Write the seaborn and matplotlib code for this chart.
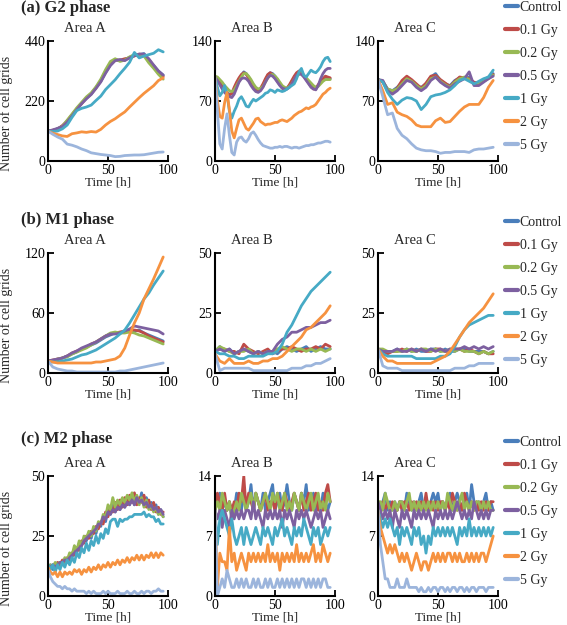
import matplotlib
matplotlib.use("Agg")
import matplotlib.pyplot as plt
from matplotlib.lines import Line2D
import numpy as np
import pandas as pd
import seaborn as sns

doses = ["Control", "0.1 Gy", "0.2 Gy", "0.5 Gy", "1 Gy", "2 Gy", "5 Gy"]
colors = ["#4a7ebb", "#be4b48", "#98b954", "#7d60a0", "#46aac5", "#f69240", "#9cb5dc"]

# G2 phase (values sampled every 4 h or 2 h over 0-96 h)
g2_area_a = [
    [110, 112, 118, 128, 145, 168, 190, 212, 230, 245, 270, 292, 325, 352, 372, 368, 372, 380, 388, 390, 394, 368, 350, 330, 315],
    [110, 113, 117, 130, 147, 170, 192, 210, 232, 247, 268, 295, 328, 355, 370, 370, 375, 378, 385, 392, 390, 372, 348, 328, 310],
    [110, 111, 118, 127, 150, 172, 195, 215, 235, 250, 272, 300, 335, 365, 375, 365, 370, 382, 390, 388, 385, 360, 340, 318, 300],
    [110, 114, 120, 126, 143, 165, 188, 210, 228, 244, 266, 290, 322, 350, 368, 372, 368, 378, 386, 392, 392, 375, 352, 330, 315],
    [110, 108, 110, 118, 132, 160, 185, 193, 198, 205, 222, 238, 262, 280, 298, 320, 340, 362, 398, 378, 385, 390, 395, 408, 400],
    [110, 102, 97, 92, 90, 100, 103, 107, 105, 108, 106, 116, 132, 145, 155, 168, 180, 198, 215, 232, 248, 262, 276, 295, 305],
    [110, 98, 88, 80, 62, 58, 52, 44, 38, 30, 27, 24, 22, 20, 16, 17, 20, 21, 22, 22, 23, 26, 29, 32, 33],
]
g2_area_b = [
    [98, 96, 92, 88, 84, 80, 78, 78, 84, 90, 95, 100, 104, 102, 98, 93, 88, 84, 82, 84, 88, 94, 100, 103, 102, 99, 95, 90, 86, 84, 84, 88, 92, 97, 102, 104, 104, 100, 96, 92, 88, 85, 84, 88, 92, 95, 98, 97, 96],
    [98, 95, 91, 86, 82, 79, 77, 79, 86, 92, 97, 101, 103, 101, 97, 92, 87, 83, 82, 85, 90, 96, 101, 103, 101, 97, 93, 89, 85, 83, 85, 89, 94, 99, 103, 105, 103, 99, 95, 91, 87, 84, 85, 89, 93, 96, 99, 98, 97],
    [99, 98, 95, 92, 88, 85, 82, 81, 83, 88, 93, 98, 102, 102, 99, 95, 90, 86, 84, 85, 87, 92, 97, 100, 101, 99, 96, 92, 88, 86, 85, 87, 90, 95, 99, 101, 102, 100, 97, 94, 91, 88, 86, 87, 90, 93, 95, 95, 95],
    [98, 94, 89, 84, 80, 77, 75, 74, 78, 85, 92, 96, 97, 96, 93, 88, 84, 81, 80, 82, 86, 92, 97, 100, 99, 96, 92, 88, 85, 84, 84, 86, 90, 95, 100, 102, 101, 98, 94, 90, 86, 84, 83, 88, 96, 102, 106, 108, 108],
    [98, 86, 76, 80, 88, 78, 58, 50, 58, 64, 72, 75, 70, 64, 63, 68, 72, 70, 72, 74, 76, 79, 80, 83, 82, 80, 83, 82, 81, 82, 84, 86, 88, 90, 96, 104, 108, 100, 98, 102, 106, 104, 103, 106, 110, 116, 120, 121, 116],
    [98, 70, 52, 50, 68, 80, 60, 35, 27, 38, 48, 50, 44, 38, 36, 40, 44, 49, 50, 46, 44, 42, 43, 43, 44, 45, 45, 47, 48, 47, 46, 48, 50, 53, 55, 57, 58, 60, 62, 61, 63, 64, 66, 70, 74, 78, 80, 83, 85],
    [98, 58, 20, 14, 38, 55, 30, 10, 7, 22, 27, 28, 24, 22, 26, 32, 34, 30, 25, 21, 18, 17, 16, 15, 15, 16, 16, 17, 16, 17, 17, 16, 15, 16, 16, 15, 16, 17, 18, 18, 19, 19, 20, 21, 21, 22, 23, 23, 22],
]
g2_area_c = [
    [95, 93, 84, 82, 86, 92, 98, 94, 88, 86, 90, 98, 102, 94, 90, 88, 94, 97, 96, 98, 90, 92, 94, 98, 102],
    [95, 92, 83, 80, 85, 94, 99, 95, 90, 85, 91, 99, 100, 95, 91, 87, 93, 98, 97, 96, 92, 91, 93, 97, 101],
    [95, 93, 84, 82, 84, 90, 96, 93, 88, 84, 88, 96, 98, 93, 89, 86, 92, 96, 98, 95, 90, 90, 93, 96, 100],
    [95, 94, 82, 78, 82, 88, 94, 92, 86, 82, 86, 94, 98, 92, 88, 85, 90, 93, 96, 104, 88, 88, 92, 96, 99],
    [95, 92, 80, 72, 66, 71, 74, 73, 70, 60, 66, 75, 77, 78, 80, 83, 88, 94, 96, 93, 90, 93, 96, 98, 106],
    [95, 82, 66, 68, 57, 54, 52, 48, 42, 40, 40, 40, 47, 50, 45, 46, 52, 58, 63, 66, 66, 66, 74, 86, 94],
    [95, 75, 54, 56, 38, 30, 26, 20, 15, 13, 12, 12, 11, 9, 10, 10, 11, 11, 11, 10, 13, 14, 14, 15, 16],
]

# M1 phase
m1_area_a = [
    [12, 12, 13, 15, 17, 19, 21, 24, 26, 28, 30, 33, 36, 38, 40, 40, 41, 42, 42, 43, 40, 38, 36, 34, 32],
    [12, 13, 14, 15, 17, 20, 22, 24, 26, 29, 31, 34, 37, 39, 40, 41, 42, 41, 43, 42, 40, 37, 35, 33, 31],
    [12, 12, 14, 15, 16, 19, 21, 23, 25, 28, 31, 34, 37, 40, 41, 40, 40, 41, 40, 38, 37, 35, 33, 31, 29],
    [12, 13, 14, 15, 17, 20, 22, 25, 27, 29, 31, 34, 37, 39, 39, 40, 42, 44, 47, 46, 45, 44, 43, 42, 39],
    [12, 11, 11, 12, 13, 14, 16, 18, 19, 21, 23, 26, 29, 32, 35, 39, 43, 50, 58, 66, 74, 80, 88, 95, 102],
    [12, 11, 10, 10, 10, 10, 10, 10, 10, 10, 11, 11, 12, 13, 14, 17, 25, 38, 50, 60, 74, 84, 94, 105, 116],
    [12, 6, 4, 3, 2, 2, 1, 1, 1, 1, 1, 1, 1, 1, 1, 2, 2, 3, 4, 5, 6, 7, 8, 9, 10],
]
m1_area_b = [
    [9, 11, 9, 10, 8, 9, 10, 9, 8, 9, 8, 9, 9, 8, 10, 11, 10, 9, 10, 11, 9, 10, 11, 10, 10],
    [9, 10, 10, 9, 9, 8, 12, 10, 9, 8, 9, 10, 8, 9, 10, 10, 11, 10, 9, 10, 10, 11, 10, 12, 11],
    [9, 11, 10, 9, 8, 9, 9, 10, 8, 9, 8, 9, 9, 10, 11, 10, 9, 10, 10, 9, 10, 9, 10, 9, 10],
    [9, 10, 9, 10, 8, 9, 10, 9, 8, 9, 8, 9, 9, 12, 14, 15, 17, 17, 18, 19, 19, 20, 21, 21, 22],
    [9, 8, 8, 7, 7, 6, 6, 7, 7, 7, 7, 8, 8, 9, 12, 17, 20, 24, 28, 31, 34, 36, 38, 40, 42],
    [8, 5, 4, 6, 4, 4, 4, 5, 4, 4, 5, 5, 6, 6, 7, 9, 11, 13, 15, 18, 19, 21, 23, 25, 28],
    [8, 1, 2, 2, 2, 2, 2, 2, 1, 1, 1, 1, 1, 1, 1, 1, 2, 2, 2, 3, 3, 4, 4, 5, 6],
]
m1_area_c = [
    [10, 9, 9, 9, 10, 9, 10, 9, 10, 9, 9, 10, 10, 9, 10, 9, 9, 10, 10, 9, 9, 9, 9, 8, 9],
    [10, 9, 8, 9, 9, 10, 9, 10, 9, 10, 9, 9, 10, 10, 9, 9, 10, 10, 9, 10, 9, 8, 9, 8, 8],
    [10, 10, 9, 9, 9, 9, 10, 9, 9, 10, 10, 9, 10, 9, 9, 10, 9, 10, 9, 9, 9, 8, 9, 8, 9],
    [10, 9, 9, 9, 10, 9, 9, 10, 9, 10, 9, 10, 9, 10, 9, 10, 10, 10, 11, 10, 11, 10, 11, 10, 11],
    [10, 8, 7, 7, 7, 7, 7, 7, 6, 6, 6, 6, 6, 7, 7, 8, 11, 15, 18, 20, 21, 22, 23, 24, 24],
    [10, 7, 5, 5, 4, 4, 4, 4, 4, 4, 4, 4, 5, 6, 7, 9, 12, 15, 18, 21, 23, 25, 27, 30, 33],
    [10, 3, 2, 2, 2, 1, 1, 1, 1, 1, 1, 1, 1, 1, 1, 1, 2, 2, 2, 3, 3, 4, 4, 4, 4],
]

# M2 phase
m2_area_a = [
    [12, 13, 11, 13, 12, 14, 13, 15, 14, 17, 16, 19, 18, 22, 21, 24, 23, 26, 24, 28, 26, 30, 29, 33, 31, 36, 34, 38, 35, 39, 36, 40, 37, 41, 38, 42, 38, 41, 39, 43, 38, 41, 37, 39, 36, 38, 34, 36, 33],
    [12, 12, 13, 12, 14, 13, 15, 14, 16, 15, 18, 17, 20, 19, 23, 22, 25, 24, 27, 26, 29, 28, 31, 30, 35, 33, 37, 35, 39, 36, 40, 37, 41, 38, 42, 39, 43, 38, 41, 39, 42, 37, 40, 36, 39, 35, 37, 34, 35],
    [12, 13, 12, 14, 13, 14, 13, 16, 15, 18, 17, 21, 19, 23, 21, 25, 24, 27, 25, 29, 27, 31, 30, 34, 33, 38, 36, 41, 37, 40, 38, 41, 39, 42, 40, 43, 39, 42, 38, 41, 37, 40, 36, 38, 35, 37, 34, 35, 33],
    [12, 12, 13, 12, 13, 14, 14, 15, 15, 16, 17, 18, 19, 20, 21, 23, 24, 25, 26, 27, 28, 30, 30, 33, 32, 35, 34, 36, 35, 37, 36, 38, 37, 39, 38, 40, 38, 41, 39, 40, 38, 39, 37, 38, 36, 37, 35, 36, 34],
    [13, 11, 13, 10, 13, 11, 14, 12, 15, 13, 16, 14, 18, 16, 20, 18, 22, 19, 23, 21, 25, 22, 26, 24, 28, 26, 31, 32, 32, 29, 32, 31, 32, 32, 33, 33, 34, 34, 34, 34, 35, 33, 34, 33, 33, 31, 32, 30, 30],
    [12, 10, 9, 10, 8, 10, 8, 10, 9, 10, 9, 11, 10, 11, 9, 11, 10, 12, 10, 12, 11, 13, 11, 13, 12, 14, 12, 14, 13, 15, 13, 15, 14, 16, 14, 16, 15, 17, 15, 17, 15, 17, 16, 18, 16, 18, 16, 18, 17],
    [11, 8, 6, 5, 4, 4, 3, 4, 3, 3, 2, 3, 2, 2, 2, 2, 1, 2, 1, 2, 1, 1, 1, 2, 1, 2, 1, 1, 1, 2, 1, 1, 1, 2, 1, 1, 2, 1, 1, 2, 1, 2, 2, 1, 2, 2, 3, 2, 2],
]
m2_area_b = [
    [10, 11, 12, 10, 11, 10, 11, 9, 10, 12, 11, 10, 12, 10, 11, 13, 10, 12, 11, 10, 12, 10, 11, 12, 13, 10, 11, 12, 10, 11, 13, 11, 10, 12, 11, 10, 12, 11, 13, 10, 11, 12, 10, 11, 10, 12, 11, 10, 11],
    [10, 12, 11, 10, 12, 10, 11, 10, 11, 10, 12, 11, 14, 10, 12, 11, 10, 12, 11, 10, 11, 12, 10, 11, 11, 10, 12, 11, 10, 12, 11, 10, 11, 12, 11, 10, 12, 10, 11, 12, 10, 11, 12, 10, 11, 10, 12, 13, 11],
    [10, 11, 10, 12, 11, 10, 11, 9, 10, 11, 10, 12, 11, 10, 11, 12, 10, 12, 11, 10, 11, 12, 11, 10, 12, 11, 12, 10, 11, 12, 10, 11, 10, 12, 11, 10, 12, 11, 10, 11, 12, 10, 11, 12, 10, 11, 10, 12, 11],
    [10, 9, 10, 8, 10, 9, 8, 10, 9, 10, 9, 10, 9, 10, 10, 9, 11, 9, 10, 9, 8, 10, 9, 10, 9, 10, 9, 10, 8, 10, 9, 10, 9, 8, 10, 9, 10, 9, 10, 9, 8, 9, 10, 9, 10, 8, 9, 10, 9],
    [10, 6, 9, 10, 9, 8, 7, 9, 7, 6, 7, 8, 6, 8, 7, 6, 7, 8, 7, 6, 8, 7, 8, 7, 6, 8, 7, 8, 9, 7, 8, 7, 6, 8, 7, 8, 7, 9, 8, 7, 6, 8, 7, 8, 6, 7, 8, 7, 8],
    [10, 1, 5, 4, 4, 3, 8, 4, 5, 3, 4, 5, 4, 3, 5, 4, 5, 4, 5, 4, 5, 4, 6, 4, 5, 4, 5, 3, 5, 4, 5, 4, 5, 4, 6, 4, 5, 4, 5, 4, 5, 6, 4, 5, 4, 6, 5, 4, 5],
    [10, 0, 1, 2, 1, 3, 2, 1, 1, 2, 1, 2, 1, 2, 1, 1, 2, 1, 2, 1, 1, 2, 1, 2, 1, 1, 2, 1, 2, 1, 2, 1, 2, 1, 2, 1, 2, 2, 1, 2, 1, 2, 1, 2, 1, 2, 2, 1, 1],
]
m2_area_c = [
    [11, 10, 11, 12, 10, 11, 10, 11, 10, 11, 11, 10, 12, 11, 10, 11, 10, 11, 12, 10, 11, 10, 11, 12, 11, 12, 10, 11, 10, 11, 12, 10, 11, 12, 11, 10, 11, 12, 10, 13, 11, 10, 11, 10, 11, 12, 10, 11, 10],
    [11, 10, 11, 10, 11, 10, 11, 10, 10, 11, 10, 11, 11, 10, 11, 10, 11, 10, 11, 10, 12, 10, 11, 10, 11, 10, 11, 11, 10, 11, 10, 12, 11, 10, 11, 10, 12, 11, 10, 11, 10, 11, 10, 11, 10, 11, 10, 11, 11],
    [11, 11, 10, 12, 11, 10, 10, 11, 10, 11, 11, 10, 11, 12, 10, 11, 10, 11, 10, 11, 10, 11, 10, 11, 10, 11, 10, 11, 10, 12, 11, 10, 11, 10, 11, 12, 10, 11, 10, 11, 10, 11, 11, 10, 11, 10, 11, 10, 10],
    [11, 10, 9, 10, 9, 10, 8, 10, 9, 8, 10, 9, 10, 9, 8, 10, 9, 10, 9, 10, 9, 10, 9, 8, 10, 9, 10, 9, 10, 9, 10, 9, 10, 11, 10, 9, 10, 9, 10, 9, 11, 10, 9, 10, 9, 10, 9, 10, 10],
    [10, 9, 8, 9, 8, 9, 8, 7, 8, 6, 8, 7, 8, 7, 6, 8, 7, 8, 6, 7, 5, 7, 6, 8, 7, 8, 7, 8, 7, 8, 7, 8, 7, 6, 8, 7, 8, 7, 9, 7, 8, 7, 8, 7, 8, 7, 8, 7, 8],
    [10, 8, 7, 6, 5, 6, 5, 6, 5, 4, 5, 4, 5, 4, 3, 4, 5, 4, 3, 4, 4, 3, 4, 5, 4, 5, 4, 5, 4, 5, 5, 4, 5, 4, 5, 4, 4, 5, 4, 5, 4, 5, 4, 5, 5, 4, 5, 6, 7],
    [10, 6, 4, 2, 2, 1, 1, 1, 2, 1, 1, 1, 2, 1, 1, 1, 1, 0.5, 1, 0.5, 0.5, 1, 0.5, 1, 1, 0.5, 1, 1, 0.5, 1, 0.5, 1, 1, 0.5, 1, 1, 0.5, 1, 0.5, 1, 1, 0.5, 1, 1, 1, 0.5, 1, 1, 1],
]

row_titles = ["(a) G2 phase", "(b) M1 phase", "(c) M2 phase"]
area_titles = ["Area A", "Area B", "Area C"]
panels = [
    [g2_area_a, g2_area_b, g2_area_c],
    [m1_area_a, m1_area_b, m1_area_c],
    [m2_area_a, m2_area_b, m2_area_c],
]
y_max = [[440, 140, 140], [120, 50, 50], [50, 14, 14]]

sns.set_style("ticks")
plt.rcParams["font.family"] = ["Liberation Serif", "DejaVu Serif"]

W, H = 567, 625
fig = plt.figure(figsize=(W / 100, H / 100), dpi=100)

col_left = [48, 215, 378]
row_top = [41, 253, 476]
ax_w, ax_h = 120, 120
title_y = [8, 220, 439]
legend_top = [1, 216, 436]

for r in range(3):
    for c in range(3):
        ax = fig.add_axes([col_left[c] / W, 1 - (row_top[r] + ax_h) / H, ax_w / W, ax_h / H])
        frames = []
        for dose, values in zip(doses, panels[r][c]):
            frames.append(pd.DataFrame({
                "time": np.linspace(0, 96, len(values)),
                "count": values,
                "dose": dose,
            }))
        df = pd.concat(frames, ignore_index=True)
        sns.lineplot(data=df, x="time", y="count", hue="dose", hue_order=doses,
                     palette=colors, estimator=None, sort=False, linewidth=2.0,
                     legend=False, ax=ax)
        ym = y_max[r][c]
        ax.set_xlim(0, 100)
        ax.set_ylim(0, ym)
        ax.set_xticks([0, 50, 100])
        ax.set_yticks([0, ym // 2, ym])
        ax.tick_params(direction="in", length=4, width=1.3, labelsize=10, pad=2, colors="black")
        for side in ["left", "bottom"]:
            ax.spines[side].set_linewidth(1.5)
            ax.spines[side].set_color("black")
        sns.despine(ax=ax)
        ax.set_xlabel("Time [h]", fontsize=9.5, labelpad=0)
        if c == 0:
            ax.set_ylabel("Number of cell grids", fontsize=10)
            ax.yaxis.set_label_coords(-0.29, 0.4)
        else:
            ax.set_ylabel("")
        ax.text(0.31, 1.05, area_titles[c], transform=ax.transAxes,
                ha="center", va="bottom", fontsize=10.5)

    fig.text(21 / W, 1 - title_y[r] / H, row_titles[r], ha="left", va="center",
             fontsize=12, fontweight="bold")
    handles = [Line2D([], [], color=col, linewidth=3) for col in colors]
    fig.legend(handles, doses, loc="upper left",
               bbox_to_anchor=(505 / W, 1 - legend_top[r] / H),
               frameon=False, fontsize=10, handlelength=0.9, handletextpad=0.15,
               labelspacing=0.72, borderpad=0, borderaxespad=0)

fig.savefig("out.png", dpi=100)
